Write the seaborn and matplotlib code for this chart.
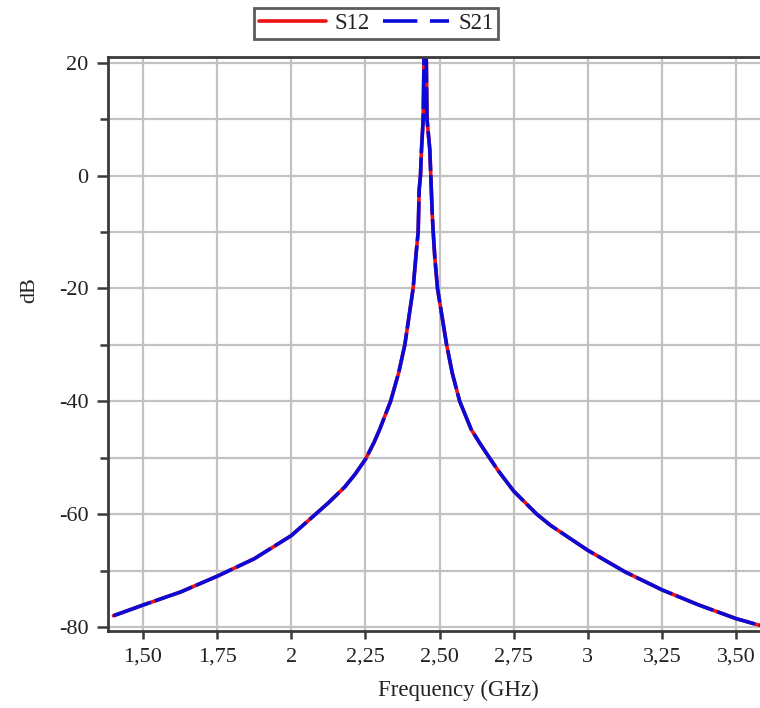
import numpy as np
import pandas as pd
import matplotlib
matplotlib.use("Agg")
import matplotlib.pyplot as plt
from matplotlib.lines import Line2D
from matplotlib.ticker import FixedLocator, FixedFormatter, MultipleLocator
import seaborn as sns

# ---- data ----
freq_ghz = [1.40, 1.50, 1.626, 1.75, 1.875, 2.00, 2.082, 2.125, 2.18, 2.214, 2.25,
            2.279, 2.298, 2.335, 2.362, 2.383, 2.411, 2.422, 2.428, 2.4314, 2.4358,
            2.4392, 2.4449, 2.4475, 2.451, 2.4555, 2.4578, 2.4672, 2.4706, 2.4753,
            2.4787, 2.4841, 2.4932, 2.524, 2.543, 2.568, 2.607, 2.638, 2.6645, 2.698,
            2.75, 2.828, 2.875, 3.00, 3.125, 3.25, 3.375, 3.50, 3.58]
s12_db = [-78.0, -76.1, -73.8, -71.0, -67.9, -63.8, -60.0, -58.0, -55.2, -53.0, -50.3,
          -47.3, -45.0, -40.0, -35.0, -30.0, -20.0, -13.3, -10.0, -2.5, 0.0,
          4.6, 10.0, 20.0, 35.0, 20.0, 10.0, 4.6, 0.0, -6.7,
          -10.0, -14.5, -20.0, -30.0, -35.0, -40.0, -45.0, -47.6, -49.7, -52.3,
          -55.9, -60.0, -62.0, -66.4, -70.2, -73.4, -76.1, -78.5, -79.7]
s21_db = [-78.0, -76.1, -73.8, -71.0, -67.9, -63.8, -60.0, -58.0, -55.2, -53.0, -50.3,
          -47.3, -45.0, -40.0, -35.0, -30.0, -20.0, -13.3, -10.0, -2.5, 0.0,
          4.6, 10.0, 20.0, 35.0, 20.0, 10.0, 4.6, 0.0, -6.7,
          -10.0, -14.5, -20.0, -30.0, -35.0, -40.0, -45.0, -47.6, -49.7, -52.3,
          -55.9, -60.0, -62.0, -66.4, -70.2, -73.4, -76.1, -78.5, -79.7]
series_names = ["S12", "S21"]
x_ticks = [1.50, 1.75, 2.00, 2.25, 2.50, 2.75, 3.00, 3.25, 3.50]
x_tick_labels = ["1,50", "1,75", "2", "2,25", "2,50", "2,75", "3", "3,25", "3,50"]
y_ticks = [20, 0, -20, -40, -60, -80]
y_tick_labels = ["20", "0", "-20", "-40", "-60", "-80"]
x_label = "Frequency (GHz)"
y_label = "dB"

df = pd.DataFrame({"freq": freq_ghz, "S12": s12_db, "S21": s21_db})

sns.set_theme(style="white")
plt.rcParams["font.family"] = ["Liberation Serif", "DejaVu Serif"]

W, H = 760, 708
fig = plt.figure(figsize=(W / 100, H / 100), dpi=100)
ax = fig.add_axes([108 / W, 1 - 631 / H, 1 - 108 / W, (631 - 57) / H])

red = "#ee1111"
blue = "#0a0ad8"
lw = 2.6

sns.lineplot(data=df, x="freq", y="S12", ax=ax, color=red, linewidth=lw,
             sort=False, estimator=None, legend=False)
sns.lineplot(data=df, x="freq", y="S21", ax=ax, color=blue, linewidth=lw,
             sort=False, estimator=None, legend=False)
ax.lines[1].set_dashes([11, 1.2])

ax.set_xlim(1.3818, 3.581)
ax.set_ylim(-80.7, 21.0)

ax.xaxis.set_major_locator(FixedLocator(x_ticks))
ax.xaxis.set_major_formatter(FixedFormatter(x_tick_labels))
ax.yaxis.set_major_locator(FixedLocator(y_ticks))
ax.yaxis.set_major_formatter(FixedFormatter(y_tick_labels))
ax.yaxis.set_minor_locator(MultipleLocator(10))

gridc = "#c2c2c2"
ax.grid(True, which="major", axis="both", color=gridc, linewidth=1.6)
ax.grid(True, which="minor", axis="y", color=gridc, linewidth=1.6)
ax.set_axisbelow(True)

spc = "#3a3a3a"
for side in ["left", "top", "bottom"]:
    ax.spines[side].set_color(spc)
    ax.spines[side].set_linewidth(2.0)
    ax.spines[side].set_visible(True)
ax.spines["right"].set_visible(False)

ax.tick_params(axis="x", which="major", direction="out", length=6, width=1.8,
               color=spc, pad=6, labelsize=16, labelcolor="#222222", bottom=True)
ax.tick_params(axis="y", which="major", direction="out", length=8, width=1.8,
               color=spc, pad=6, labelsize=16, labelcolor="#222222", left=True)
ax.tick_params(axis="y", which="minor", direction="out", length=6, width=1.8,
               color=spc, left=True)

ax.set_xlabel("")
ax.set_ylabel("")
fig.text(458 / W, 1 - 690 / H, x_label, ha="center", va="center",
         fontsize=16.5, color="#222222")
fig.text(30 / W, 1 - 290 / H, y_label, ha="center", va="center",
         rotation=90, fontsize=16, color="#222222")

handles = [
    Line2D([], [], color=red, linewidth=2.6),
    Line2D([], [], color=blue, linewidth=2.6, dashes=[9.5, 3.5]),
]
leg = fig.legend(handles, series_names, loc="upper left",
                 bbox_to_anchor=(254 / W, 1 - 8 / H), ncol=2, frameon=True,
                 fancybox=False, fontsize=16.5, handlelength=2.9,
                 handletextpad=0.4, columnspacing=0.55, borderpad=0.22,
                 borderaxespad=0.0)
leg.get_frame().set_edgecolor("#333333")
leg.get_frame().set_linewidth(2.0)
for t in leg.get_texts():
    t.set_color("#222222")

fig.savefig("out.png", dpi=100)
